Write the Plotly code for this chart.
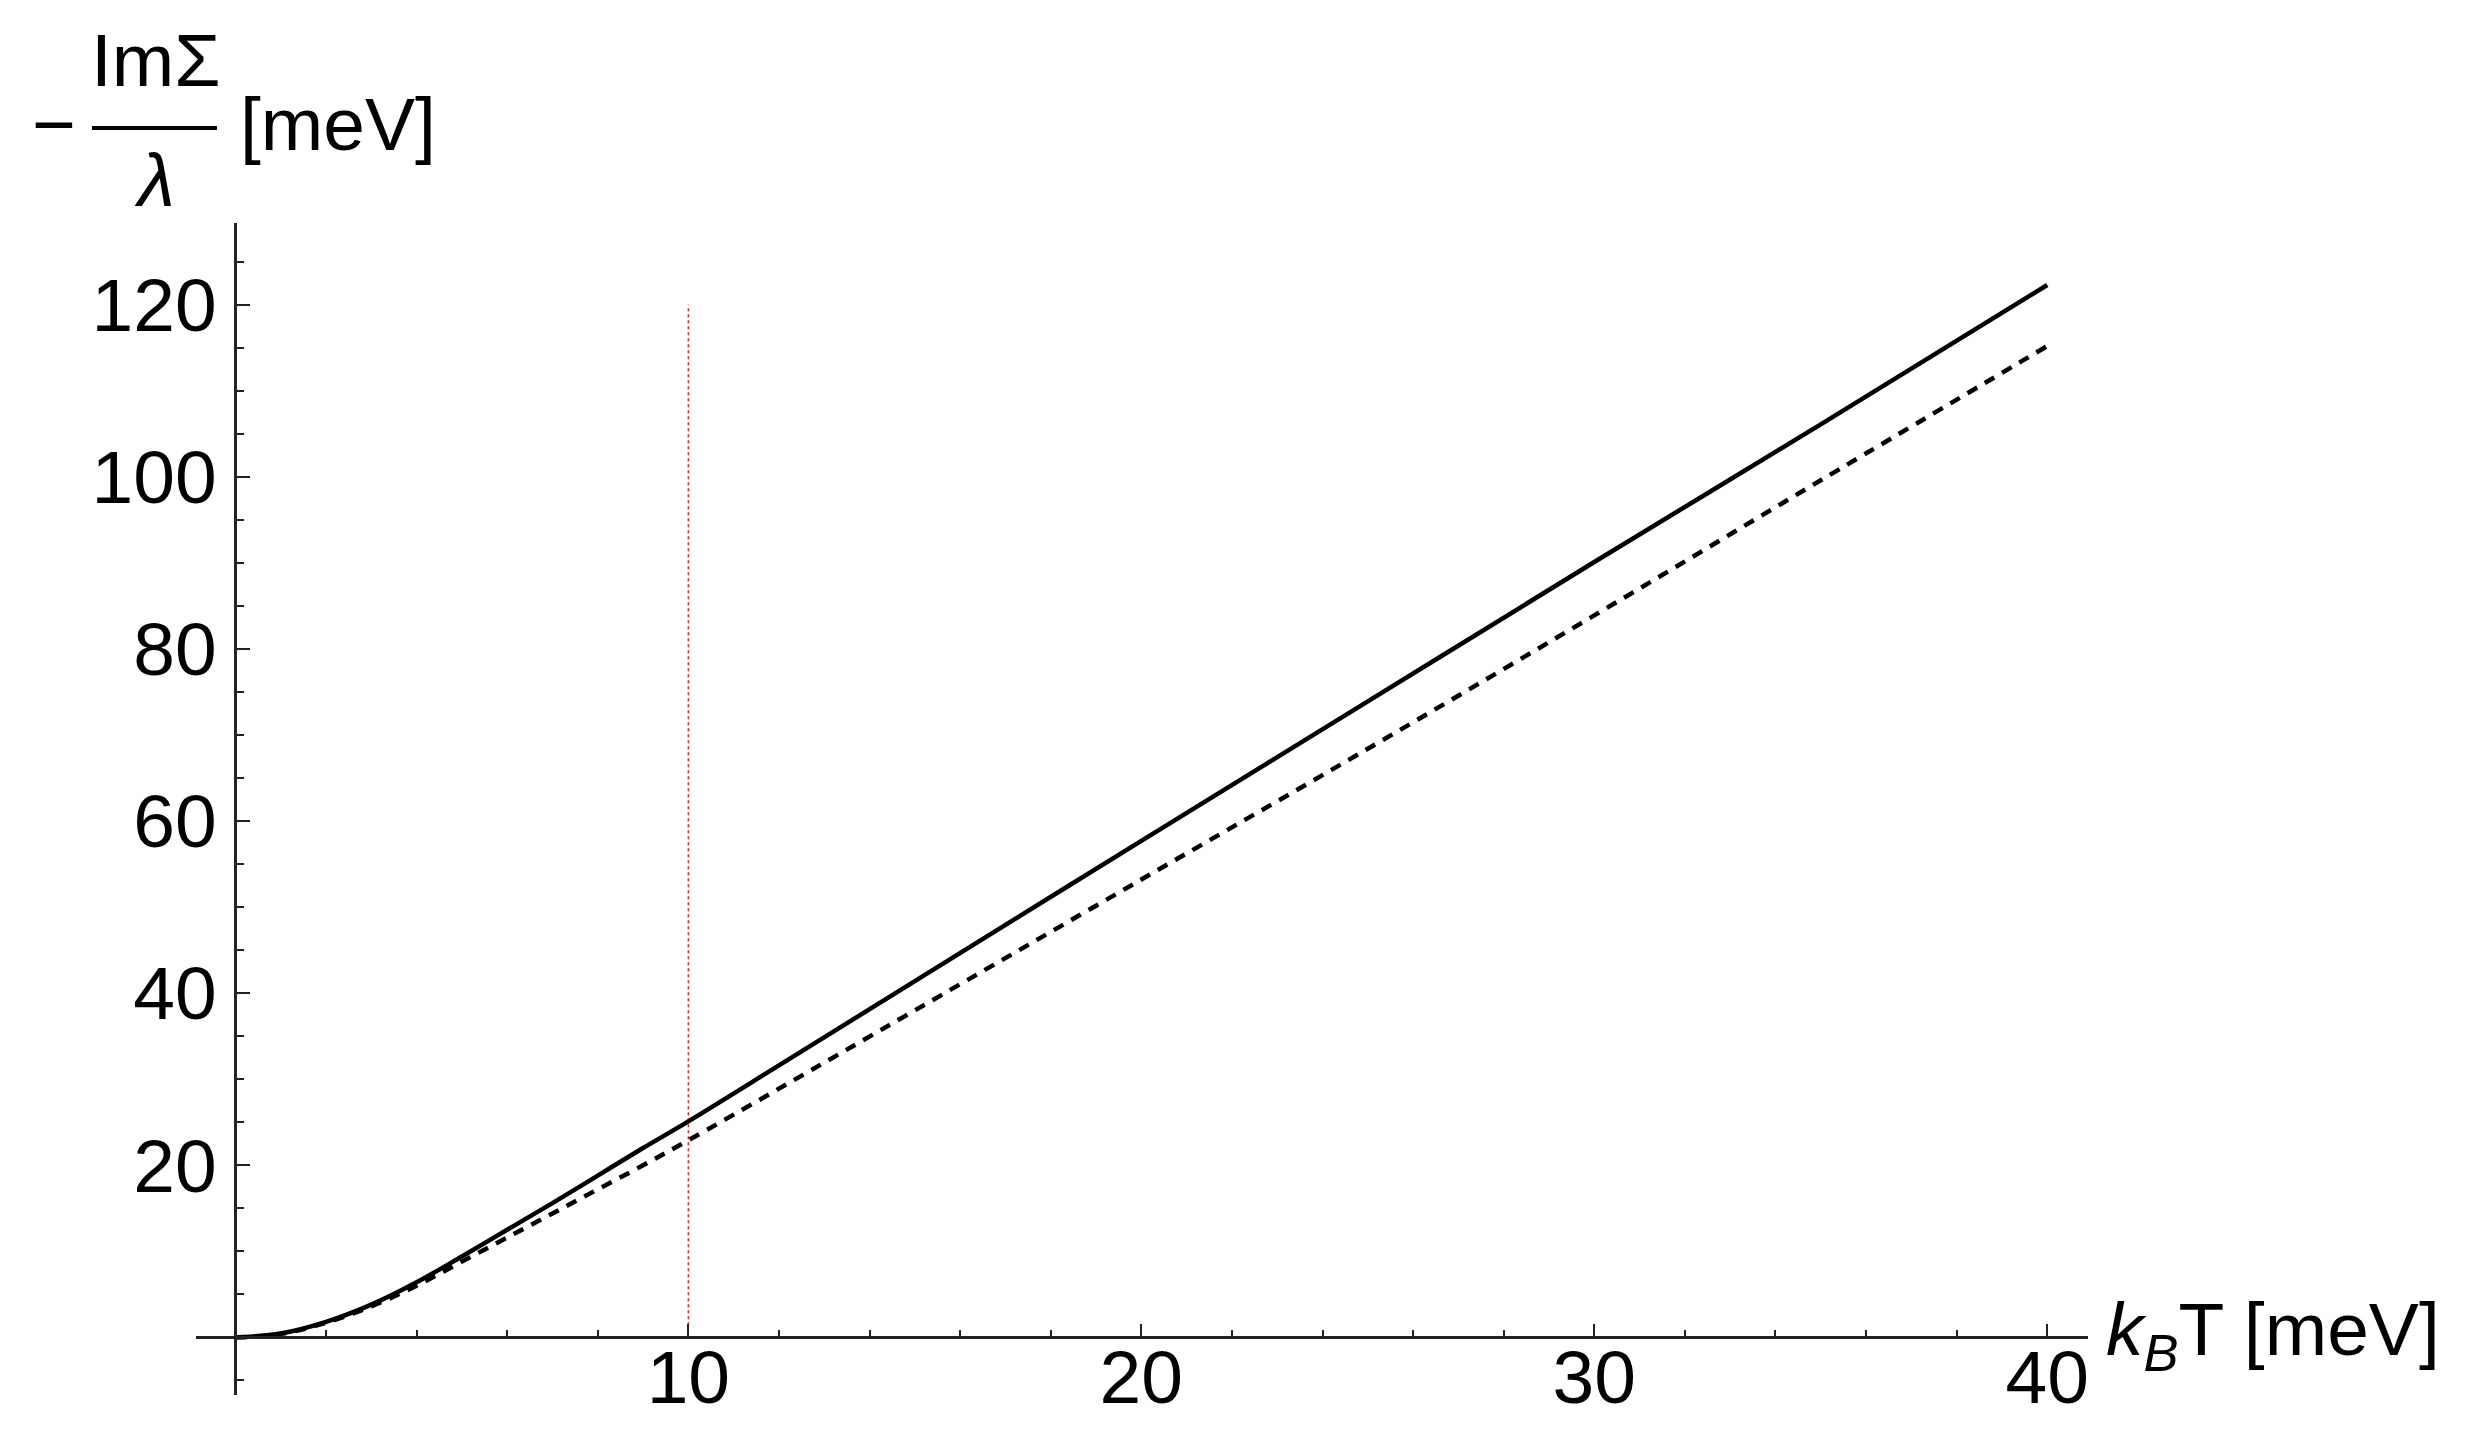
import plotly.graph_objects as go

# temperature grid (k_B T in meV)
kT = [0, 1, 2, 3, 4, 5, 6, 7, 8, 9, 10, 12, 15, 20, 25, 30, 35, 40]

# -Im Sigma / lambda [meV], full result (solid) and approximation (dashed)
sigma_full = [0, 0.45, 1.8, 3.8, 6.4, 9.4, 12.5, 15.6, 18.8, 22.0, 25.1,
              31.6, 41.4, 57.7, 73.9, 90.1, 106.1, 122.3]
sigma_approx = [0, 0.4, 1.7, 3.6, 6.0, 8.8, 11.6, 14.4, 17.2, 20.0, 22.9,
                28.9, 38.0, 53.2, 68.4, 83.9, 99.6, 115.2]

# red marker line
marker_T = [10, 10]
marker_sigma = [0, 120]

x_ticks = [10, 20, 30, 40]
y_ticks = [20, 40, 60, 80, 100, 120]

W, H = 2465, 1450
ML, MR, MT, MB = 188, 385, 215, 63
XR = [-0.87, 40.9]
YR = [-6.7, 129.5]
FONT = "Liberation Sans, Arial, sans-serif"
FS = 75
AX = "#222222"


def px(x):
    return (x - ML) / (W - ML - MR)


def py(y):
    return (H - MB - y) / (H - MT - MB)


fig = go.Figure()

fig.add_trace(go.Scatter(
    x=marker_T, y=marker_sigma, mode="lines",
    line=dict(color="rgb(220,40,40)", width=1.5, dash="dot"),
    showlegend=False, hoverinfo="skip"
))
fig.add_trace(go.Scatter(
    x=kT, y=sigma_approx, mode="lines", line_shape="spline",
    line=dict(color="black", width=4.5, dash="11px,9px"),
    showlegend=False
))
fig.add_trace(go.Scatter(
    x=kT, y=sigma_full, mode="lines", line_shape="spline",
    line=dict(color="black", width=4.5),
    showlegend=False
))

axis_common = dict(
    showgrid=False, zeroline=False, showline=True,
    linecolor=AX, linewidth=2.5,
    ticks="inside", ticklen=13, tickwidth=2, tickcolor=AX,
    tickfont=dict(family=FONT, size=FS, color="black"),
    tickmode="array", anchor="free",
)

fig.update_layout(
    width=W, height=H,
    margin=dict(l=ML, r=MR, t=MT, b=MB),
    paper_bgcolor="white", plot_bgcolor="white",
    xaxis=dict(
        axis_common, range=XR, tickvals=x_ticks,
        position=(0 - YR[0]) / (YR[1] - YR[0]),
        ticklabelstandoff=-26,
        minor=dict(dtick=2, tick0=0, ticks="inside", ticklen=7,
                   tickwidth=1.5, tickcolor=AX, showgrid=False),
    ),
    yaxis=dict(
        axis_common, range=YR, tickvals=y_ticks,
        position=(0 - XR[0]) / (XR[1] - XR[0]),
        ticklabelstandoff=3,
        minor=dict(dtick=5, tick0=0, ticks="inside", ticklen=7,
                   tickwidth=1.5, tickcolor=AX, showgrid=False),
    ),
)

txt = dict(xref="paper", yref="paper", showarrow=False,
           font=dict(family=FONT, size=FS, color="black"))

# x-axis label at the end of the axis
fig.add_annotation(txt, x=px(2096), y=py(1326), xanchor="left", yanchor="middle",
                   text="<i>k</i><sub><i>B</i></sub>T [meV]")

# y-axis label as a fraction:  - ImΣ / λ [meV]
fig.add_annotation(txt, x=px(46), y=py(116), xanchor="center", yanchor="middle",
                   text="−")
fig.add_annotation(txt, x=px(148), y=py(52), xanchor="center", yanchor="middle",
                   text="ImΣ")
fig.add_annotation(txt, x=px(146), y=py(172), xanchor="center", yanchor="middle",
                   text="<i>λ</i>")
fig.add_annotation(txt, x=px(330), y=py(116), xanchor="center", yanchor="middle",
                   text="[meV]")
fig.add_shape(type="line", xref="paper", yref="paper",
              x0=px(84), x1=px(209), y0=py(120), y1=py(120),
              line=dict(color="black", width=4))

fig.write_html("out.html")
